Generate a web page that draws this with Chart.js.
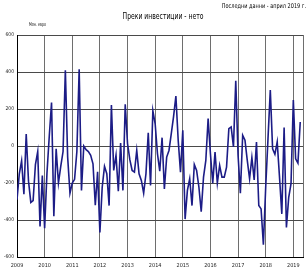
<!DOCTYPE html>
<html>
<head>
<meta charset="utf-8">
<script src="https://cdn.jsdelivr.net/npm/chart.js@4/dist/chart.umd.min.js"></script>
<style>
  html, body { margin: 0; padding: 0; background: #fff; }
  #wrap { position: relative; width: 308px; height: 275px; }
</style>
</head>
<body>
<div id="wrap"><canvas id="fdiChart" width="308" height="275"></canvas></div>
<script>
// Monthly net FDI, mln EUR (Jan 2009 - Apr 2019)
const v2009 = [-290, -150, -80, -260, 65, -190, -305, -295, -100, -30, -435, -160];
const v2010 = [-445, -150, 50, 235, -380, -15, -200, -110, -30, 410, -60, -255];
const v2011 = [-200, -180, -30, 415, -240, 0, -20, -30, -50, -96, -320, -140];
const v2012 = [-467, -223, -110, -150, -322, 221, -132, -50, -244, 16, -240, 226];
const v2013 = [13, -74, -132, -141, -24, -150, -186, -255, -150, 72, -213, 190];
const v2014 = [120, -42, -136, 45, -232, -60, -24, 67, 160, 270, 31, -141];
const v2015 = [85, -395, -240, -177, -322, -100, -132, -223, -355, -168, -78, 148];
const v2016 = [-42, -201, -33, -201, -105, -168, -168, -114, 94, 103, -5, 353];
const v2017 = [-50, -255, 58, 31, -78, -177, -63, -183, 22, -322, -340, -534];
const v2018 = [-223, 40, 302, -15, -45, 22, -168, -367, 100, -440, -277, -204];
const v2019 = [248, -69, -92, 130];

const yearLabels = ['2009', '2010', '2011', '2012', '2013', '2014', '2015', '2016', '2017', '2018', '2019'];
const yTicks = [-600, -400, -200, 0, 200, 400, 600];

const titleText = 'Преки инвестиции - нето';
const noteText = 'Последни данни - април 2019 г.';
const unitText = 'Млн. евро';

const allValues = [].concat(v2009, v2010, v2011, v2012, v2013, v2014, v2015, v2016, v2017, v2018, v2019);
const points = allValues.map((v, i) => ({ x: i, y: v }));

const FONT = '"DejaVu Sans Condensed", "DejaVu Sans", sans-serif';

// draw a horizontally squeezed label (the original uses a narrow face)
function squeezedText(ctx, text, x, y, size, sx, align) {
    ctx.save();
    ctx.translate(x, y);
    ctx.scale(sx, 1);
    ctx.font = size + 'px ' + FONT;
    ctx.textAlign = align;
    ctx.textBaseline = 'middle';
    ctx.fillStyle = '#000';
    ctx.fillText(text, 0, 0);
    ctx.restore();
}

// texts above the plot
const headerPlugin = {
    id: 'header',
    afterDraw(chart) {
        const ctx = chart.ctx;
        squeezedText(ctx, noteText, 306, 6, 6.5, 0.85, 'right');
        squeezedText(ctx, titleText, 163, 17, 9, 0.75, 'center');
        squeezedText(ctx, unitText, 29, 25, 5, 0.72, 'left');
    }
};

const ctx = document.getElementById('fdiChart').getContext('2d');
const fdiChart = new Chart(ctx, {
    type: 'line',
    data: {
        datasets: [{
            label: titleText,
            data: points,
            borderColor: '#1c1c86',
            borderWidth: 1.6,
            pointRadius: 0,
            tension: 0,
            fill: false
        }]
    },
    options: {
        responsive: false,
        animation: false,
        events: [],
        layout: {
            padding: { top: 35, right: 1, left: 0, bottom: 0 }
        },
        plugins: {
            legend: { display: false },
            tooltip: { enabled: false }
        },
        scales: {
            x: {
                type: 'linear',
                min: 0,
                max: allValues.length + 0.2,
                afterBuildTicks: function(scale) {
                    const ticks = yearLabels.map((y, i) => ({ value: i * 12 }));
                    ticks.push({ value: allValues.length + 0.2 });
                    scale.ticks = ticks;
                },
                afterFit: function(scale) { scale.height = 18; },
                grid: {
                    color: '#6e6e6e',
                    lineWidth: 1,
                    drawTicks: false
                },
                border: { color: '#000', width: 1 },
                ticks: {
                    autoSkip: false,
                    maxRotation: 0,
                    padding: 5,
                    color: '#222',
                    font: { family: FONT, size: 5.5 },
                    callback: function(value) {
                        const idx = Math.round(value / 12);
                        return value % 12 === 0 ? yearLabels[idx] : '';
                    }
                }
            },
            y: {
                min: -600,
                max: 600,
                afterBuildTicks: function(scale) {
                    scale.ticks = yTicks.map(v => ({ value: v }));
                },
                afterFit: function(scale) { scale.width = 17; },
                grid: {
                    color: '#4a4a4a',
                    lineWidth: 1,
                    drawTicks: false
                },
                border: { color: '#000', width: 1 },
                ticks: {
                    padding: 3,
                    color: '#222',
                    font: { family: FONT, size: 5 }
                }
            }
        }
    },
    plugins: [headerPlugin]
});
</script>
</body>
</html>
